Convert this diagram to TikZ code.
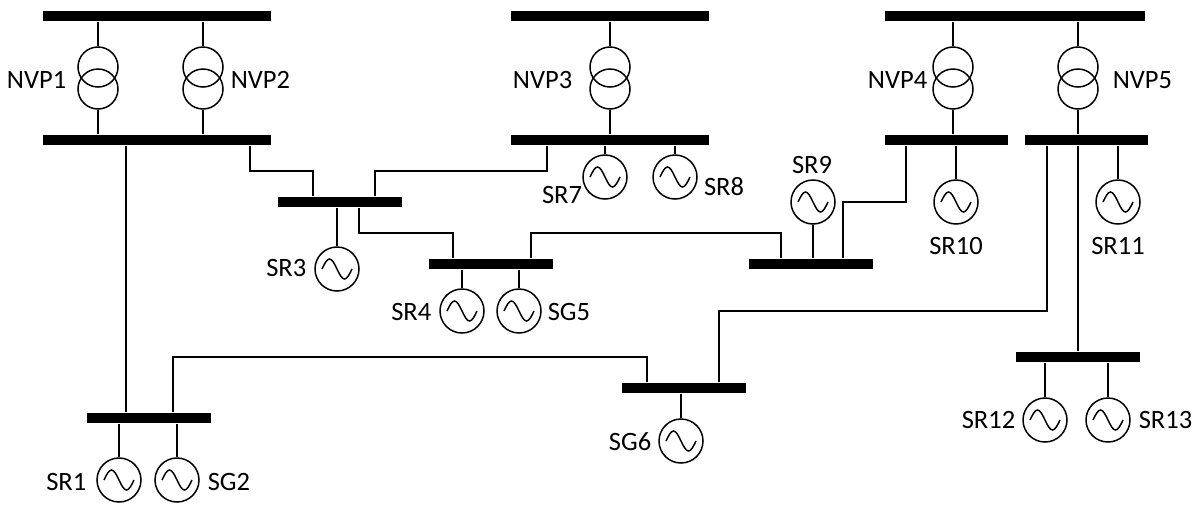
\documentclass[tikz,border=0pt]{standalone}
\usepackage{fontspec}
\setmainfont{Carlito}

\begin{document}
\begin{tikzpicture}[x=1pt,y=-1pt,line width=1.5pt,
    font=\fontsize{26.5}{30}\selectfont,
    bus/.style={fill=black,inner sep=0pt,minimum height=10pt},
    wdg/.style={circle,draw,inner sep=0pt,minimum size=40pt},
    gen/.style={circle,draw,inner sep=0pt,minimum size=44pt,
      path picture={\draw ([xshift=-15pt]path picture bounding box.center)
        sin ++(7.5pt,10pt) cos ++(7.5pt,-10pt) sin ++(7.5pt,-10pt) cos ++(7.5pt,10pt);}},
    lbl/.style={inner sep=0pt}]
  \useasboundingbox (0,0) rectangle (1199,504);

  % busbars
  \node[bus,minimum width=228pt] (N12) at (157,16) {};
  \node[bus,minimum width=228pt] (B1) at (157,140) {};
  \node[bus,minimum width=198pt] (N3) at (610,16) {};
  \node[bus,minimum width=198pt] (B7) at (610,140) {};
  \node[bus,minimum width=260pt] (N45) at (1015,16) {};
  \node[bus,minimum width=123pt] (B10) at (946.5,140) {};
  \node[bus,minimum width=123pt] (B11) at (1086.5,140) {};
  \node[bus,minimum width=124pt] (B3) at (340,202) {};
  \node[bus,minimum width=124pt] (B4) at (491,264) {};
  \node[bus,minimum width=124pt] (B9) at (811,264) {};
  \node[bus,minimum width=124pt] (B6) at (684,388) {};
  \node[bus,minimum width=124pt] (B2) at (149,418) {};
  \node[bus,minimum width=124pt] (B12) at (1078,357) {};

  % transformers
  \node[wdg] (P1a) at (98,67) {};   \node[wdg] (P1b) at (98,89) {};
  \node[wdg] (P2a) at (203,67) {};  \node[wdg] (P2b) at (203,89) {};
  \node[wdg] (P3a) at (610,67) {};  \node[wdg] (P3b) at (610,89) {};
  \node[wdg] (P4a) at (953,67) {};  \node[wdg] (P4b) at (953,89) {};
  \node[wdg] (P5a) at (1078,67) {}; \node[wdg] (P5b) at (1078,89) {};
  \draw (P1a) -- (P1a |- N12.south) (P1b) -- (P1b |- B1.north);
  \draw (P2a) -- (P2a |- N12.south) (P2b) -- (P2b |- B1.north);
  \draw (P3a) -- (P3a |- N3.south) (P3b) -- (P3b |- B7.north);
  \draw (P4a) -- (P4a |- N45.south) (P4b) -- (P4b |- B10.north);
  \draw (P5a) -- (P5a |- N45.south) (P5b) -- (P5b |- B11.north);
  \node[lbl,anchor=east] (LP1) at (67,80) {NVP1};
  \node[lbl,anchor=west] (LP2) at (230,80) {NVP2};
  \node[lbl,anchor=east] (LP3) at (573,80) {NVP3};
  \node[lbl,anchor=east] (LP4) at (928,80) {NVP4};
  \node[lbl,anchor=west] (LP5) at (1112,80) {NVP5};

  % generators
  \node[gen] (G1) at (119,480) {};
  \node[gen] (G2) at (177,480) {};
  \node[gen] (G3) at (337,269) {};
  \node[gen] (G4) at (462,311) {};
  \node[gen] (G5) at (519,311) {};
  \node[gen] (G6) at (681,441) {};
  \node[gen] (G7) at (605,177) {};
  \node[gen] (G8) at (675,177) {};
  \node[gen] (G9) at (813,202) {};
  \node[gen] (G10) at (956,202) {};
  \node[gen] (G11) at (1118,202) {};
  \node[gen] (G12) at (1045,420) {};
  \node[gen] (G13) at (1108,420) {};
  \draw (G1) -- (G1 |- B2.south) (G2) -- (G2 |- B2.south);
  \draw (G3) -- (G3 |- B3.south);
  \draw (G4) -- (G4 |- B4.south) (G5) -- (G5 |- B4.south);
  \draw (G6) -- (G6 |- B6.south);
  \draw (G7) -- (G7 |- B7.south) (G8) -- (G8 |- B7.south);
  \draw (G9) -- (G9 |- B9.north);
  \draw (G10) -- (G10 |- B10.south) (G11) -- (G11 |- B11.south);
  \draw (G12) -- (G12 |- B12.south) (G13) -- (G13 |- B12.south);
  \node[lbl,anchor=east] (L1) at (87,482) {SR1};
  \node[lbl,anchor=west] (L2) at (207,482) {SG2};
  \node[lbl,anchor=east] (L3) at (307,268) {SR3};
  \node[lbl,anchor=east] (L4) at (432,312) {SR4};
  \node[lbl,anchor=west] (L5) at (547,312) {SG5};
  \node[lbl,anchor=east] (L6) at (652,442) {SG6};
  \node[lbl] (L7) at (562,195) {SR7};
  \node[lbl] (L8) at (724,187) {SR8};
  \node[lbl] (L9) at (812,165) {SR9};
  \node[lbl] (L10) at (956,246) {SR10};
  \node[lbl] (L11) at (1118,246) {SR11};
  \node[lbl,anchor=east] (L12) at (1016,420) {SR12};
  \node[lbl,anchor=west] (L13) at (1138,420) {SR13};

  % lines between busbars
  \draw (B1.south -| 126,0) -- (B2.north -| 126,0);
  \draw (B1.south -| 250,0) |- (313,171) -- (B3.north -| 313,0);
  \draw (B3.north -| 375,0) |- (547,171) -- (B7.south -| 547,0);
  \draw (B3.south -| 359,0) |- (453,233) -- (B4.north -| 453,0);
  \draw (B4.north -| 531,0) |- (781,233) -- (B9.north -| 781,0);
  \draw (B10.south -| 906,0) |- (843,202) -- (B9.north -| 843,0);
  \draw (B11.south -| 1047,0) |- (719,311) -- (B6.north -| 719,0);
  \draw (B6.north -| 647,0) |- (173,357) -- (B2.north -| 173,0);
  \draw (B11.south -| 1078,0) -- (B12.north -| 1078,0);
\end{tikzpicture}
\end{document}
